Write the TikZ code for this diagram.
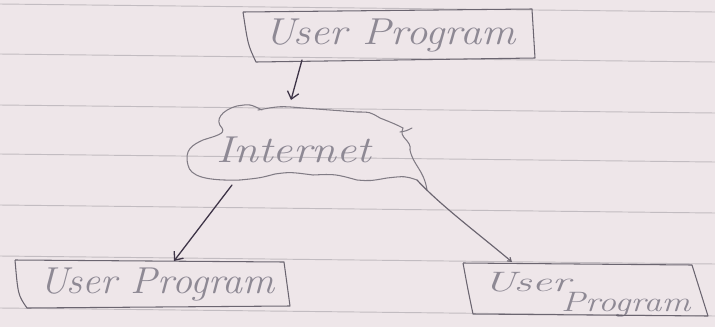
\documentclass[tikz,border=0pt]{standalone}
\usepackage{fontspec}
\usepackage{graphicx}
\usetikzlibrary{arrows.meta}
\definecolor{paper}{HTML}{EEE6E9}
\definecolor{ruling}{HTML}{C2BCC1}
\definecolor{pencil}{HTML}{6B6570}
\definecolor{ink}{HTML}{3E3447}
\definecolor{script}{HTML}{8E8994}
% wide, loose handwriting: stretch the text sideways
\newcommand{\handwide}[2]{\scalebox{#1}[1]{#2}}
\begin{document}
\begin{tikzpicture}[x=0.03cm,y=-0.03cm,
  paperrule/.style={ruling, line width=0.8pt},
  boxline/.style={pencil, line width=0.9pt, line join=round},
  cloudline/.style={pencil!85, line width=0.9pt, line cap=round},
  handtext/.style={script, inner sep=0pt,
    font=\fontsize{32}{36}\selectfont\itshape},
  smallhand/.style={script, inner sep=0pt,
    font=\fontsize{24}{28}\selectfont\itshape},
  link/.style={ink, line width=1.1pt, line cap=round,
    -{Straight Barb[length=6pt,width=10pt]}},
  tail/.style={pencil, line width=1pt, line cap=round,
    -{Straight Barb[length=3pt,width=4pt]}}]

% notebook page
\fill[paper] (0,0) rectangle (715,327);
\useasboundingbox (0,0) rectangle (715,327);
\foreach \y in {4,54,105,154,205,256,308}
  \draw[paperrule] (0,\y) -- (715,\y+8);

% upper program
\node[handtext] (topprog) at (390,36) {\handwide{1.14}{User Program}};
\draw[boxline] (243,12) -- (532,9) -- (535,58) -- (256,62)
  .. controls (248,45) .. (243,12);

% the internet cloud
\node[handtext] (net) at (294,150) {\handwide{1.2}{Internet}};
\draw[cloudline] (417,180) .. controls (405,176) .. (387,178)
  .. controls (370,181) .. (357,180) .. controls (335,174) .. (313,175)
  .. controls (290,172) .. (275,174) .. controls (260,178) .. (240,180)
  .. controls (205,181) and (190,176) .. (188,165)
  .. controls (184,150) and (192,145) .. (203,140)
  .. controls (215,136) and (226,134) .. (222,128)
  .. controls (214,120) and (222,110) .. (237,106)
  .. controls (250,104) .. (262,110);
\draw[cloudline] (258,110) .. controls (280,106) .. (303,108)
  .. controls (330,110) .. (357,112) .. controls (370,112) .. (380,118)
  .. controls (395,124) .. (403,128)
  .. controls (398,138) and (412,140) .. (410,150)
  .. controls (413,165) and (424,170) .. (427,190);
\draw[cloudline] (400,132) .. controls (406,131) .. (412,128);

% lower left program
\node[handtext] (leftprog) at (157,285) {\handwide{1.07}{User Program}};
\draw[boxline] (15,260) .. controls (18,295) .. (27,308) -- (290,306)
  -- (284,262) -- (15,260);

% lower right program
\node[smallhand, anchor=west] (rightuser) at (483,282) {\handwide{1.6}{User}};
\node[smallhand, anchor=west] (rightprog) at (561,305) {\handwide{1.28}{Program}};
\draw[boxline] (463,263) -- (692,265) -- (708,316) -- (473,314)
  .. controls (468,290) .. (463,263);

% connection points on the outlines
\coordinate (topout)   at (302,60);
\coordinate (netin)    at (291,100);
\coordinate (netleft)  at (232,185);
\coordinate (leftin)   at (174,261);
\coordinate (nettail)  at (417,180);
\coordinate (rightin)  at (512,262);

\draw[link] (topout) -- (netin);
\draw[link] (netleft) -- (leftin);
\draw[tail] (nettail) .. controls (440,205) and (480,235) .. (rightin);
\end{tikzpicture}
\end{document}
